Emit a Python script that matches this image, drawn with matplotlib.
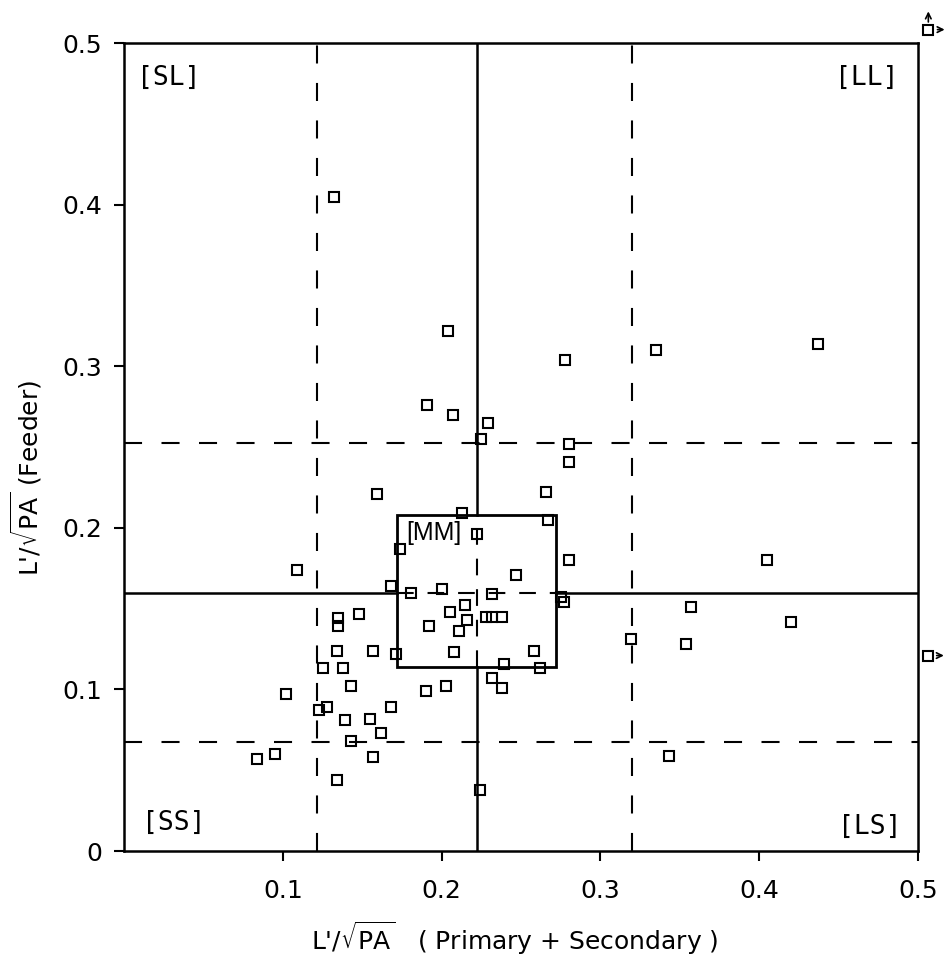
import numpy as np
import matplotlib.pyplot as plt
from matplotlib.patches import Rectangle

plt.rcParams['lines.scale_dashes'] = False

# data points
x_vals = [0.132, 0.204, 0.191, 0.207, 0.229, 0.225, 0.280, 0.280, 0.266, 0.213,
          0.222, 0.267, 0.174, 0.247, 0.280, 0.109, 0.159, 0.168, 0.181, 0.200,
          0.232, 0.275, 0.277, 0.215, 0.205, 0.216, 0.211, 0.192, 0.228, 0.232,
          0.238, 0.208, 0.258, 0.171, 0.239, 0.262, 0.232, 0.238, 0.203, 0.190,
          0.224, 0.148, 0.135, 0.135, 0.134, 0.157, 0.125, 0.138, 0.143, 0.102,
          0.123, 0.128, 0.168, 0.139, 0.155, 0.162, 0.143, 0.157, 0.095, 0.084,
          0.134, 0.278, 0.335, 0.437, 0.405, 0.357, 0.420, 0.319, 0.354, 0.343]
y_vals = [0.405, 0.322, 0.276, 0.270, 0.265, 0.255, 0.252, 0.241, 0.222, 0.209,
          0.196, 0.205, 0.187, 0.171, 0.180, 0.174, 0.221, 0.164, 0.160, 0.162,
          0.159, 0.157, 0.154, 0.152, 0.148, 0.143, 0.136, 0.139, 0.145, 0.145,
          0.145, 0.123, 0.124, 0.122, 0.116, 0.113, 0.107, 0.101, 0.102, 0.099,
          0.038, 0.147, 0.144, 0.139, 0.124, 0.124, 0.113, 0.113, 0.102, 0.097,
          0.087, 0.089, 0.089, 0.081, 0.082, 0.073, 0.068, 0.058, 0.060, 0.057,
          0.044, 0.304, 0.310, 0.314, 0.180, 0.151, 0.142, 0.131, 0.128, 0.059]

# points beyond the axes, drawn at the edge with arrows
off_right = (0.506, 0.121)
off_corner = (0.5065, 0.5085)

x_mean, y_mean = 0.222, 0.160
x_sd_lines = [0.1215, 0.320]
y_sd_lines = [0.0675, 0.2525]
mm_x = (0.172, 0.272)
mm_y = (0.114, 0.208)

quad_labels = ['[SL]', '[LL]', '[SS]', '[LS]']

fig = plt.figure(figsize=(9.52, 9.63), dpi=100)
ax = fig.add_axes([0.1303, 0.1163, 0.834, 0.8387])
ax.set_xlim(0, 0.5)
ax.set_ylim(0, 0.5)

dash = (0, (13, 14))
lw = 1.5

# mean +/- sd lines
for xv in x_sd_lines:
    ax.plot([xv, xv], [0, 0.5], color='black', lw=lw, ls=dash)
for yv in y_sd_lines:
    ax.plot([0, 0.5], [yv, yv], color='black', lw=lw, ls=dash)

# mean lines, solid outside the MM box and dashed inside
ax.plot([x_mean, x_mean], [0, mm_y[0]], color='black', lw=1.8)
ax.plot([x_mean, x_mean], [mm_y[1], 0.5], color='black', lw=1.8)
ax.plot([x_mean, x_mean], [mm_y[0], mm_y[1]], color='black', lw=lw, ls=(0, (12, 10)))
ax.plot([0, mm_x[0]], [y_mean, y_mean], color='black', lw=1.8)
ax.plot([mm_x[1], 0.5], [y_mean, y_mean], color='black', lw=1.8)
ax.plot([mm_x[0], mm_x[1]], [y_mean, y_mean], color='black', lw=lw, ls=(0, (12, 10)))

ax.add_patch(Rectangle((mm_x[0], mm_y[0]), mm_x[1] - mm_x[0], mm_y[1] - mm_y[0],
                       fill=False, lw=2.0, ec='black'))
ax.text(mm_x[0] + 0.006, mm_y[1] - 0.004, '[MM]', family='Liberation Sans',
        fontsize=18, ha='left', va='top')

ax.plot(x_vals, y_vals, ls='none', marker='s', ms=7.5, mfc='none', mec='black', mew=1.5)

# off-chart markers
ax.plot(*off_right, marker='s', ms=7.5, mfc='none', mec='black', mew=1.5, clip_on=False)
ax.annotate('', xy=(off_right[0] + 0.012, off_right[1]), xytext=(off_right[0] + 0.004, off_right[1]),
            arrowprops=dict(arrowstyle='->', lw=1.2), annotation_clip=False)
ax.plot(*off_corner, marker='s', ms=6.5, mfc='none', mec='black', mew=1.5, clip_on=False)
ax.annotate('', xy=(off_corner[0], off_corner[1] + 0.013), xytext=(off_corner[0], off_corner[1] + 0.003),
            arrowprops=dict(arrowstyle='->', lw=1.2), annotation_clip=False)
ax.annotate('', xy=(off_corner[0] + 0.012, off_corner[1]), xytext=(off_corner[0] + 0.004, off_corner[1]),
            arrowprops=dict(arrowstyle='->', lw=1.2), annotation_clip=False)

qfont = dict(family='DejaVu Sans Mono', fontsize=19)
ax.text(0.016, 0.957, quad_labels[0], transform=ax.transAxes, ha='left', va='center', **qfont)
ax.text(0.975, 0.957, quad_labels[1], transform=ax.transAxes, ha='right', va='center', **qfont)
ax.text(0.022, 0.035, quad_labels[2], transform=ax.transAxes, ha='left', va='center', **qfont)
ax.text(0.979, 0.030, quad_labels[3], transform=ax.transAxes, ha='right', va='center', **qfont)

for s in ax.spines.values():
    s.set_linewidth(1.8)

ax.set_xticks([0.1, 0.2, 0.3, 0.4, 0.5])
ax.set_xticklabels(['0.1', '0.2', '0.3', '0.4', '0.5'])
ax.set_yticks([0, 0.1, 0.2, 0.3, 0.4, 0.5])
ax.set_yticklabels(['0', '0.1', '0.2', '0.3', '0.4', '0.5'])
ax.tick_params(direction='out', length=7, width=1.5, labelsize=18)
ax.tick_params(axis='x', pad=13)
ax.tick_params(axis='y', pad=9)

fig.text(515 / 952, 1 - 938 / 963, r"L'/$\sqrt{\mathrm{PA}}$   ( Primary + Secondary )",
         fontsize=18, ha='center', va='center')
fig.text(26 / 952, 1 - 478 / 963, r"L'/$\sqrt{\mathrm{PA}}$ (Feeder)",
         fontsize=18, ha='center', va='center', rotation=90)

fig.savefig('out.png', dpi=100)
